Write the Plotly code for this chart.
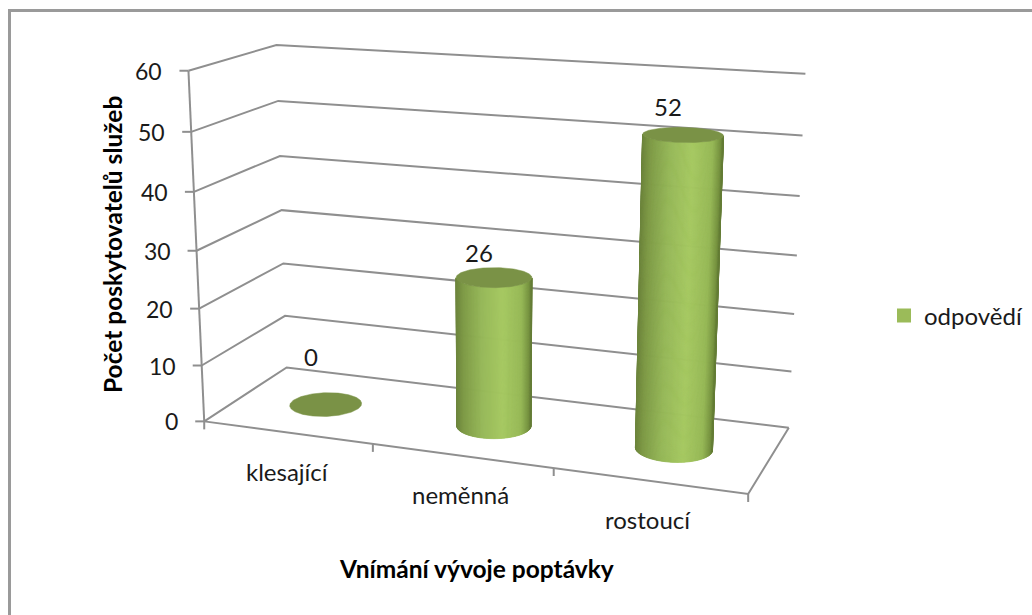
import numpy as np
import plotly.graph_objects as go

# ---- data ----
categories = ["klesající", "neměnná", "rostoucí"]
values = [0, 26, 52]
z_ticks = [0, 10, 20, 30, 40, 50, 60]
series_name = "odpovědí"
x_title = "Vnímání vývoje poptávky"
y_title = "Počet poskytovatelů služeb"

# ---- view of the box (fitted to the reference) ----
EYE = np.array([1.0625, -2.9002, 0.8038])
YAW, PITCH = -0.3539, -0.2729
ASPECT_Y, ASPECT_Z = 0.3335, 0.6384
VX, VY, FOCAL = 490.3772, 286.4559, 1817.9977
BAR_Y = 0.4818
BAR_R = 0.2
Z_MAX = z_ticks[-1]
N_CAT = len(categories)

GRID = "#8F8F8F"
CAP = "#7A9246"
BAR_STOPS = [(0.0, (108, 132, 60)), (0.1, (126, 154, 70)), (0.35, (150, 184, 88)),
             (0.62, (165, 200, 96)), (0.87, (150, 184, 86)), (0.97, (118, 146, 64)), (1.0, (100, 124, 54))]

f_ = np.array([np.cos(PITCH) * np.sin(YAW), np.cos(PITCH) * np.cos(YAW), np.sin(PITCH)])
r_ = np.array([np.cos(YAW), -np.sin(YAW), 0.0])
u_ = np.cross(r_, f_)


def world(x, y, z):
    return np.array([x / N_CAT - .5, (y - .5) * ASPECT_Y, (z / Z_MAX - .5) * ASPECT_Z])


def proj(x, y, z):
    d = world(x, y, z) - EYE
    return VX + FOCAL * d.dot(r_) / d.dot(f_), VY - FOCAL * d.dot(u_) / d.dot(f_)


def shade(s):
    for (a, ca), (b, cb) in zip(BAR_STOPS, BAR_STOPS[1:]):
        if s <= b:
            t = (s - a) / (b - a)
            return "rgb(%d,%d,%d)" % tuple(round(p + (q - p) * t) for p, q in zip(ca, cb))
    return "rgb(%d,%d,%d)" % BAR_STOPS[-1][1]


fig = go.Figure()


def line(points, color=GRID, width=2):
    xs, ys = zip(*points)
    fig.add_trace(go.Scatter(x=xs, y=ys, mode="lines", line=dict(color=color, width=width),
                             hoverinfo="skip", showlegend=False))


# walls
for z in z_ticks:
    a = proj(0, 0, z)
    line([a, proj(0, 1, z), proj(N_CAT, 1, z)])
    line([(a[0] - 9, a[1]), a])
# floor and axes
line([proj(0, 0, 0), proj(0, 0, Z_MAX)])
line([proj(0, 0, 0), proj(N_CAT, 0, 0), proj(N_CAT, 1, 0)])
for i in range(N_CAT + 1):
    a = proj(i, 0, 0)
    line([a, (a[0], a[1] + 8)])

# cylinders
T = np.linspace(0, 2 * np.pi, 241)
for i, v in enumerate(values):
    cx = i + .5
    circle = [(cx + BAR_R * np.cos(t), BAR_Y + BAR_R * np.sin(t)) for t in T]
    if v > 0:
        vis = []
        for t, (x, y) in zip(T[:-1], circle[:-1]):
            n = np.array([np.cos(t), np.sin(t), 0])
            if n.dot(EYE - world(x, y, 0)) > 0:
                vis.append((t, x, y))
        order = np.argsort([proj(x, y, 0)[0] for _, x, y in vis])
        vis = [vis[k] for k in order]
        x0, x1 = proj(vis[0][1], vis[0][2], 0)[0], proj(vis[-1][1], vis[-1][2], 0)[0]
        for (t1, xa, ya), (t2, xb, yb) in zip(vis, vis[1:]):
            pa, pb = proj(xa, ya, 0), proj(xb, yb, 0)
            qa, qb = proj(xa, ya, v), proj(xb, yb, v)
            col = shade(((pa[0] + pb[0]) / 2 - x0) / (x1 - x0))
            fig.add_trace(go.Scatter(x=[pa[0], pb[0], qb[0], qa[0], pa[0]], y=[pa[1], pb[1], qb[1], qa[1], pa[1]],
                                     mode="lines", fill="toself", fillcolor=col, line=dict(color=col, width=0.8),
                                     hoverinfo="skip", showlegend=False))
    top = [proj(x, y, v) for x, y in circle]
    xs, ys = zip(*top)
    fig.add_trace(go.Scatter(x=xs, y=ys, mode="lines", fill="toself", fillcolor=CAP, line=dict(color=CAP, width=0.5),
                             hoverinfo="skip", showlegend=False))

# legend entry
fig.add_trace(go.Scatter(x=[None], y=[None], mode="markers", name=series_name,
                         marker=dict(symbol="square", size=14, color="#9BBB59"), showlegend=True))

FONT = "Lato, Carlito, sans-serif"
TXT = "#1a1a1a"
ann = []
for z in z_ticks:
    a = proj(0, 0, z)
    ann.append(dict(x=a[0] - 24, y=a[1], text=str(z), xanchor="right", yanchor="middle", showarrow=False,
                    font=dict(family=FONT, size=23, color=TXT)))
cat_dx = [0, -1, -1]
for i, c in enumerate(categories):
    a = proj(i + .5, 0, 0)
    ann.append(dict(x=a[0] + cat_dx[i], y=a[1] + 39, text=c, xanchor="center", yanchor="middle", showarrow=False,
                    font=dict(family=FONT, size=24, color=TXT)))
val_dy = [-48, -25, -28]
for i, v in enumerate(values):
    a = proj(i + .5, BAR_Y, v)
    ann.append(dict(x=a[0] - 15, y=a[1] + val_dy[i], text=str(v), xanchor="center", yanchor="middle", showarrow=False,
                    font=dict(family=FONT, size=24, color=TXT)))
ann.append(dict(x=476, y=568, text=x_title, xanchor="center", yanchor="middle", showarrow=False,
                font=dict(family=FONT, size=24.5, color="#000000", weight="bold")))
ann.append(dict(x=112, y=245, text=y_title, textangle=-90, xanchor="center", yanchor="middle", showarrow=False,
                font=dict(family=FONT, size=24.5, color="#000000", weight="bold")))

FRAME = dict(color="#9A9A9A", width=3)
fig.update_layout(
    width=1032, height=615, margin=dict(l=0, r=0, t=0, b=0),
    paper_bgcolor="white", plot_bgcolor="white",
    xaxis=dict(range=[0, 1032], visible=False, fixedrange=True),
    yaxis=dict(range=[615, 0], visible=False, fixedrange=True),
    annotations=ann,
    legend=dict(x=884 / 1032, y=1 - 316 / 615, xanchor="left", yanchor="middle", bgcolor="rgba(0,0,0,0)",
                font=dict(family=FONT, size=24, color=TXT), itemwidth=30),
    shapes=[dict(type="line", xref="x", yref="y", x0=9.5, x1=9.5, y0=9, y1=615, line=FRAME, layer="below"),
            dict(type="line", xref="x", yref="y", x0=8, x1=1032, y0=10.5, y1=10.5, line=FRAME, layer="below")],
)
fig.write_html("out.html", config=dict(displayModeBar=False), post_script="document.body.style.margin='0';")
